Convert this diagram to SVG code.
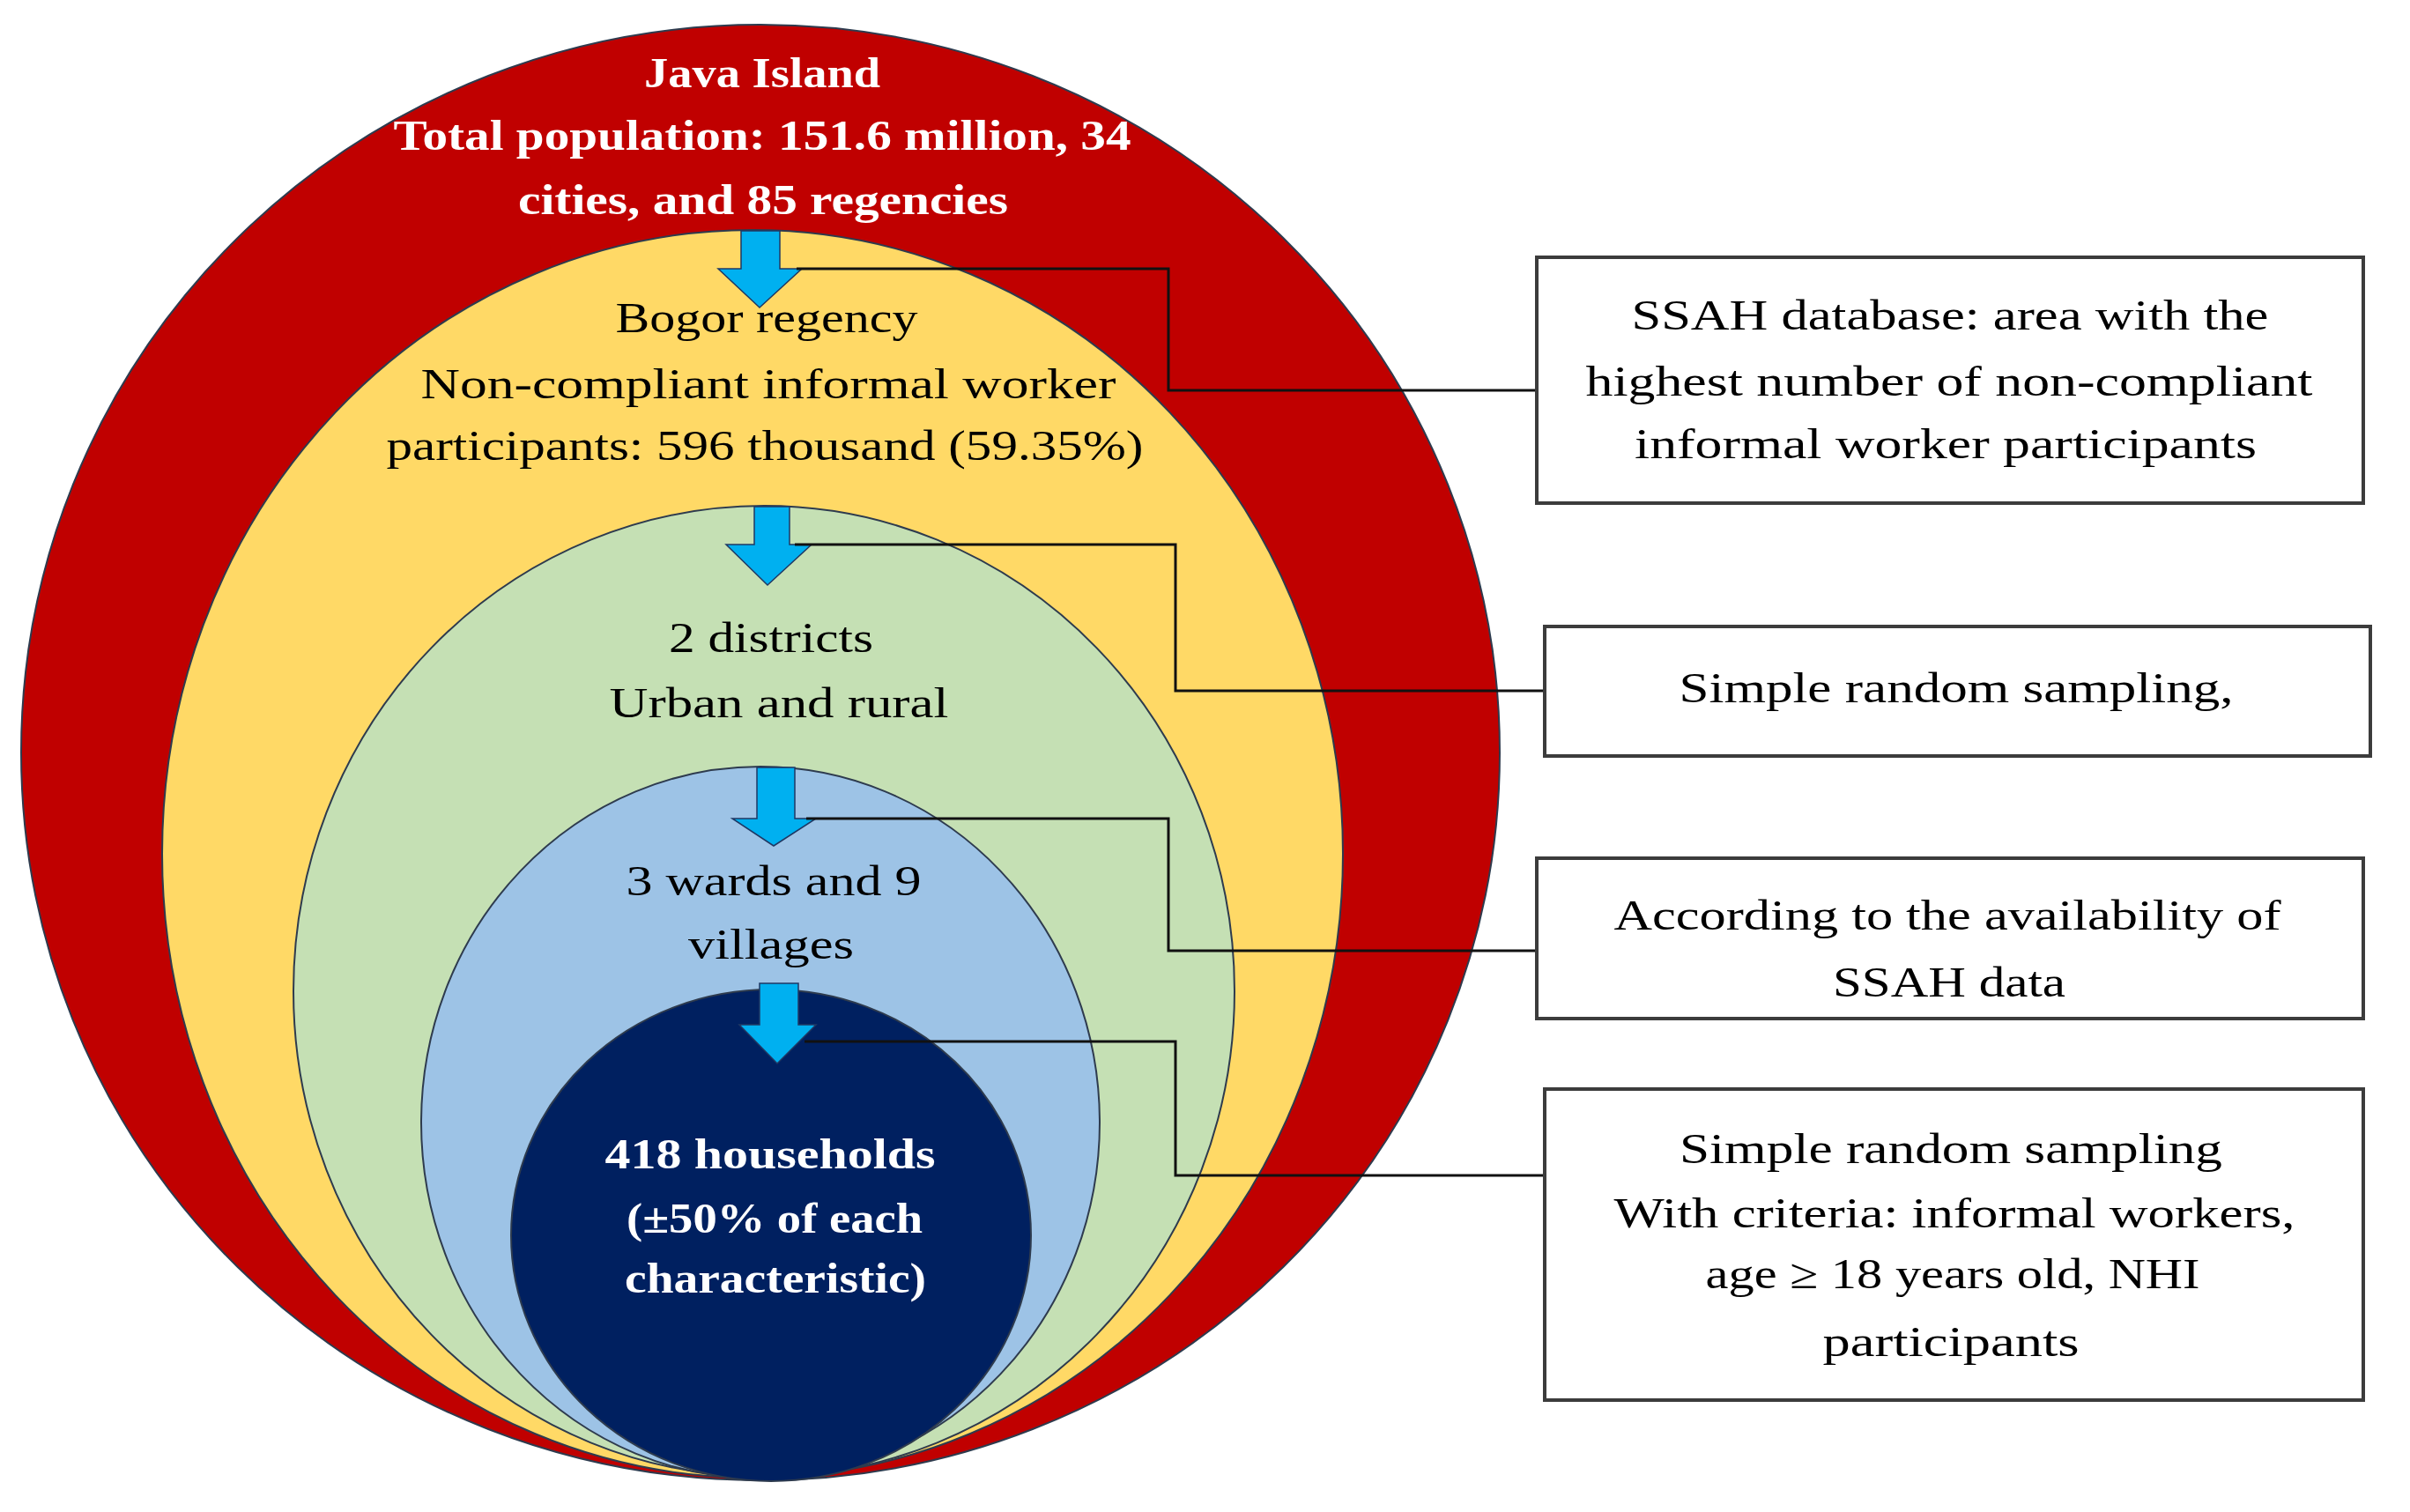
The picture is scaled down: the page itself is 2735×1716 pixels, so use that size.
<svg xmlns="http://www.w3.org/2000/svg" width="2735" height="1716" viewBox="0 0 2735 1716">
<style>
.ell{stroke:#2E3B4E;stroke-width:2}
.arr{fill:#00B0F0;stroke:#1F3864;stroke-width:1.5}
.con{fill:none;stroke:#111;stroke-width:3}
.box{fill:#fff;stroke:#3C3C3C;stroke-width:4}
.t{font-family:"Liberation Serif","Times New Roman",serif;font-size:48px;text-anchor:middle}
.w{fill:#fff;font-weight:bold}
.k{fill:#000}
</style>
<rect x="0" y="0" width="2735" height="1716" fill="#fff"/>
<g id="java">
<ellipse class="ell" cx="863" cy="854" rx="839" ry="826" fill="#C00000"/>
</g>
<g id="bogor">
<ellipse class="ell" cx="854" cy="969" rx="670" ry="708" fill="#FFD966"/>
</g>
<g id="districts">
<ellipse class="ell" cx="867" cy="1125" rx="534" ry="551" fill="#C5E0B4"/>
</g>
<g id="wards">
<ellipse class="ell" cx="863" cy="1274" rx="385" ry="404" fill="#9DC3E6"/>
</g>
<g id="households">
<ellipse class="ell" cx="875" cy="1402" rx="295" ry="279" fill="#002060"/>
</g>
<g id="arrows">
<polygon class="arr" points="841,262 885,262 885,305 910,305 862,349 815,305 841,305"/>
<polygon class="arr" points="856,575 896,575 896,618 921,618 871,664 824,618 856,618"/>
<polygon class="arr" points="859,871 902,871 902,929 926,929 878,960 831,929 859,929"/>
<polygon class="arr" points="862,1116 906,1116 906,1163 926,1163 882,1207 839,1163 862,1163"/>
</g>
<g id="connectors">
<polyline class="con" points="904,305 1326,305 1326,443 1746,443"/>
<polyline class="con" points="902,618 1334,618 1334,784 1755,784"/>
<polyline class="con" points="915,929 1326,929 1326,1079 1746,1079"/>
<polyline class="con" points="913,1182 1334,1182 1334,1334 1755,1334"/>
</g>
<g id="box1">
<rect class="box" x="1744" y="292" width="938" height="279"/>
<text class="t k" x="2213" y="374" textLength="723" lengthAdjust="spacingAndGlyphs">SSAH database: area with the</text>
<text class="t k" x="2212" y="449" textLength="825" lengthAdjust="spacingAndGlyphs">highest number of non-compliant</text>
<text class="t k" x="2208" y="520" textLength="706" lengthAdjust="spacingAndGlyphs">informal worker participants</text>
</g>
<g id="box2">
<rect class="box" x="1753" y="711" width="937" height="147"/>
<text class="t k" x="2220" y="797" textLength="629" lengthAdjust="spacingAndGlyphs">Simple random sampling,</text>
</g>
<g id="box3">
<rect class="box" x="1744" y="974" width="938" height="182"/>
<text class="t k" x="2210" y="1055" textLength="757" lengthAdjust="spacingAndGlyphs">According to the availability of</text>
<text class="t k" x="2212" y="1131" textLength="264" lengthAdjust="spacingAndGlyphs">SSAH data</text>
</g>
<g id="box4">
<rect class="box" x="1753" y="1236" width="929" height="353"/>
<text class="t k" x="2214" y="1320" textLength="616" lengthAdjust="spacingAndGlyphs">Simple random sampling</text>
<text class="t k" x="2218" y="1393" textLength="773" lengthAdjust="spacingAndGlyphs">With criteria: informal workers,</text>
<text class="t k" x="2216" y="1462" textLength="561" lengthAdjust="spacingAndGlyphs">age ≥ 18 years old, NHI</text>
<text class="t k" x="2214" y="1539" textLength="291" lengthAdjust="spacingAndGlyphs">participants</text>
</g>
<g id="labels">
<text class="t w" x="865" y="99" textLength="268" lengthAdjust="spacingAndGlyphs">Java Island</text>
<text class="t w" x="865" y="170" textLength="837" lengthAdjust="spacingAndGlyphs">Total population: 151.6 million, 34</text>
<text class="t w" x="866" y="243" textLength="556" lengthAdjust="spacingAndGlyphs">cities, and 85 regencies</text>
<text class="t k" x="870" y="377" textLength="343" lengthAdjust="spacingAndGlyphs">Bogor regency</text>
<text class="t k" x="872" y="452" textLength="789" lengthAdjust="spacingAndGlyphs">Non-compliant informal worker</text>
<text class="t k" x="868" y="522" textLength="859" lengthAdjust="spacingAndGlyphs">participants: 596 thousand (59.35%)</text>
<text class="t k" x="875" y="740" textLength="232" lengthAdjust="spacingAndGlyphs">2 districts</text>
<text class="t k" x="884" y="814" textLength="385" lengthAdjust="spacingAndGlyphs">Urban and rural</text>
<text class="t k" x="878" y="1016" textLength="335" lengthAdjust="spacingAndGlyphs">3 wards and 9</text>
<text class="t k" x="875" y="1088" textLength="188" lengthAdjust="spacingAndGlyphs">villages</text>
<text class="t w" x="874" y="1326" textLength="375" lengthAdjust="spacingAndGlyphs">418 households</text>
<text class="t w" x="879" y="1399" textLength="336" lengthAdjust="spacingAndGlyphs">(±50% of each</text>
<text class="t w" x="880" y="1467" textLength="342" lengthAdjust="spacingAndGlyphs">characteristic)</text>
</g>
</svg>
